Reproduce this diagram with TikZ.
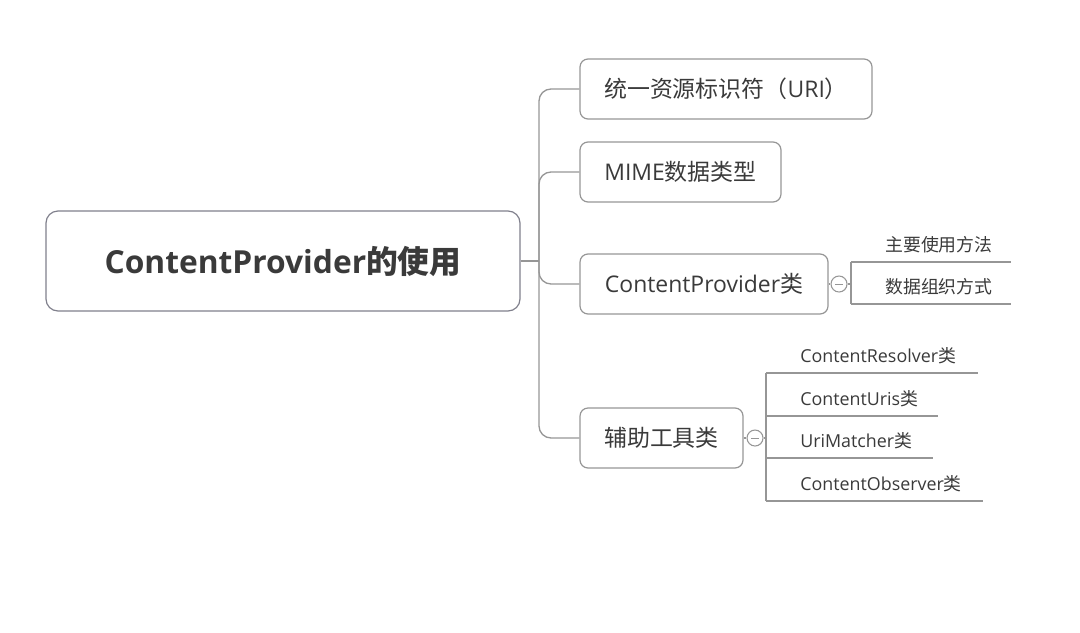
\documentclass[tikz,border=0pt]{standalone}
\usepackage{fontspec}
\setmainfont{Open Sans}
\newfontfamily\cjk{Noto Sans CJK SC}
\usepackage{xcolor}
\usetikzlibrary{calc,positioning}
\definecolor{boxline}{RGB}{128,128,140}
\definecolor{branchline}{RGB}{150,150,150}
\definecolor{textgray}{RGB}{58,58,58}

\begin{document}
\begin{tikzpicture}[x=0.75pt, y=-0.75pt, every node/.style={text=textgray},
    root/.style={draw=boxline, line width=0.9pt, rounded corners=9pt, minimum width=355.5pt, minimum height=75pt, font=\fontsize{23.8}{28}\selectfont\bfseries},
    topic/.style={draw=branchline, line width=0.9pt, rounded corners=6pt, minimum height=45pt, font=\fontsize{17.2}{20}\selectfont},
    fold/.style={circle, draw=branchline, line width=0.8pt, minimum size=12pt, inner sep=0pt, path picture={\draw[branchline, line width=0.7pt] (-3pt,0) -- (3pt,0);}},
    sub/.style={anchor=south west, inner xsep=0pt, inner ysep=0pt, text depth=8pt, align=left, text width=#1, font=\fontsize{13.4}{16}\selectfont, execute at begin node={\hspace*{25.5pt}}},
    link/.style={draw=branchline, line width=1pt}]
    \useasboundingbox (0,0) rectangle (1080,632);

    % central topic
    \node[root] (R) at (283,261) {ContentProvider{\cjk 的使用}};

    % main branches
    \node[topic, minimum width=219pt]    (T1) at (726,89)    {{\cjk 统一资源标识符（}URI{\cjk ）}};
    \node[topic, minimum width=150.75pt] (T2) at (680.5,172) {MIME{\cjk 数据类型}};
    \node[topic, minimum width=186pt]    (T3) at (704,284)   {ContentProvider{\cjk 类}};
    \node[topic, minimum width=122.25pt] (T4) at (661.5,438) {{\cjk 辅助工具类}};

    \coordinate (J) at (539,261);
    \draw[link] (R.east) -- (J);
    \draw[link, rounded corners=9pt] (J) |- (T1.west);
    \draw[link, rounded corners=9pt] (J) |- (T2.west);
    \draw[link, rounded corners=9pt] (J) |- (T3.west);
    \draw[link, rounded corners=9pt] (J) |- (T4.west);

    % fold markers
    \node[fold] (F3) at (839,284) {};
    \node[fold] (F4) at (755,438) {};
    \draw[link] (T3.east) -- (F3.west);
    \draw[link] (T4.east) -- (F4.west);

    % sub topics of ContentProvider类
    \node[sub=119.25pt] (P1) at (851,262) {{\cjk 主要使用方法}};
    \node[sub=119.25pt] (P2) at (851,304) {{\cjk 数据组织方式}};
    \draw[link] (P1.south west) -- (P1.south east);
    \draw[link] (P2.south west) -- (P2.south east);
    \draw[link] (P1.south west) -- (P2.south west);
    \draw[link] (F3.east) -- (F3.east -| P1.south west);

    % sub topics of the helper classes
    \node[sub=158.25pt] (H1) at (766,373) {ContentResolver{\cjk 类}};
    \node[sub=128.25pt] (H2) at (766,416) {ContentUris{\cjk 类}};
    \node[sub=124.5pt]  (H3) at (766,458) {UriMatcher{\cjk 类}};
    \node[sub=162pt]    (H4) at (766,501) {ContentObserver{\cjk 类}};
    \foreach \h in {H1,H2,H3,H4}
        \draw[link] (\h.south west) -- (\h.south east);
    \draw[link] (H1.south west) -- (H4.south west);
    \draw[link] (F4.east) -- (F4.east -| H1.south west);
\end{tikzpicture}
\end{document}
